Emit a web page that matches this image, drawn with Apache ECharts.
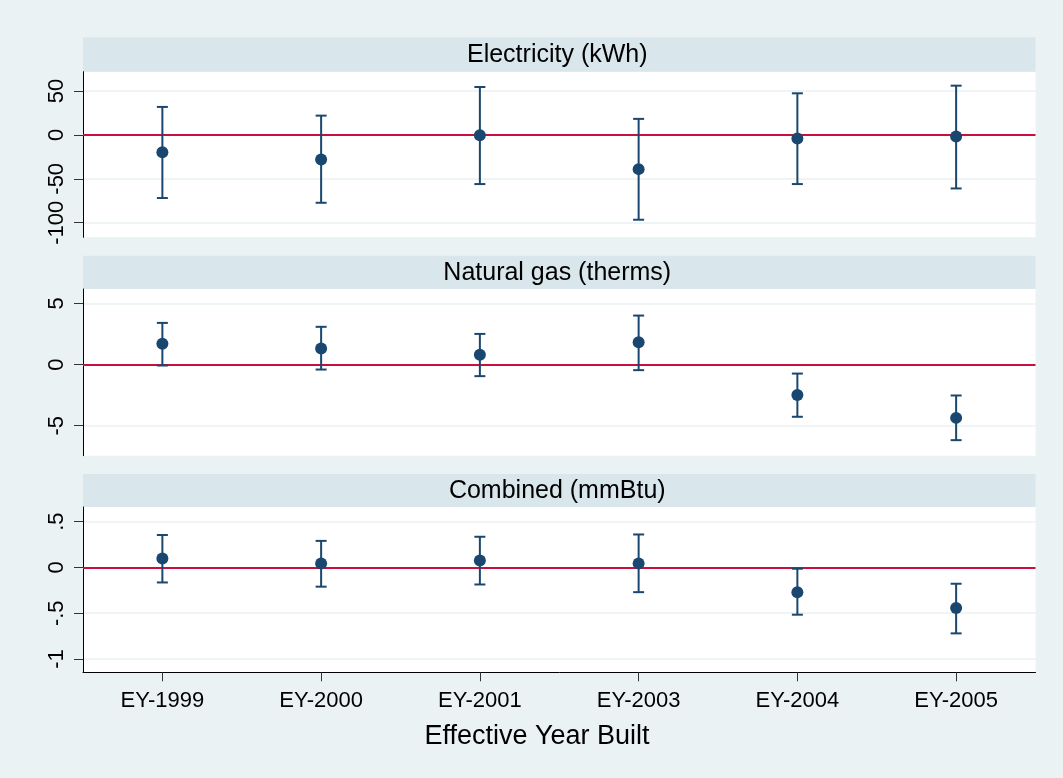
<!DOCTYPE html>
<html>
<head>
<meta charset="utf-8">
<title>Effective Year Built</title>
<script src="https://cdn.jsdelivr.net/npm/echarts@6/dist/echarts.min.js"></script>
<style>
html,body{margin:0;padding:0;background:#eaf2f3;}
#main{width:1063px;height:778px;}
</style>
</head>
<body>
<div id="main"></div>
<script>
// 类别
var years = ['EY-1999', 'EY-2000', 'EY-2001', 'EY-2003', 'EY-2004', 'EY-2005'];
// Electricity (kWh)
var elecEst = [-19.7, -28, -0.4, -39, -4.2, -1.9];
var elecLo = [-71.9, -77.3, -56, -96.6, -56, -61];
var elecHi = [31.8, 21.9, 54.5, 18.2, 47.3, 56];
// Natural gas (therms)
var gasEst = [1.69, 1.31, 0.79, 1.82, -2.5, -4.36];
var gasLo = [-0.08, -0.41, -0.95, -0.46, -4.27, -6.18];
var gasHi = [3.4, 3.08, 2.5, 4.0, -0.74, -2.53];
// Combined (mmBtu)
var combEst = [0.098, 0.044, 0.076, 0.044, -0.27, -0.443];
var combLo = [-0.164, -0.21, -0.186, -0.27, -0.516, -0.72];
var combHi = [0.354, 0.29, 0.335, 0.36, -0.014, -0.178];
// 刻度
var elecTicks = [-100, -50, 0, 50];
var gasTicks = [-5, 0, 5];
var combTicks = [-1, -0.5, 0, 0.5];
var panelTitles = ['Electricity (kWh)', 'Natural gas (therms)', 'Combined (mmBtu)'];

;(function(){
	var chart = echarts.init(document.getElementById('main'));
	var navy = '#1a476f';
	var font = '"Liberation Sans", Arial, sans-serif';
	var left = 83, right = 1035.5;
	// 每个面板: 标题条顶部, 绘图区顶部, 绘图区高度
	var panels = [
		{strip: 37.3, top: 71.7, h: 165.6, min: -116.6, max: 71.9, ticks: elecTicks, est: elecEst, lo: elecLo, hi: elecHi},
		{strip: 255.7, top: 289, h: 166.7, min: -7.45, max: 6.17, ticks: gasTicks, est: gasEst, lo: gasLo, hi: gasHi},
		{strip: 474, top: 507, h: 165.3, min: -1.145, max: 0.66, ticks: combTicks, est: combEst, lo: combLo, hi: combHi}
	];
	// stata风格的刻度 .5 / -.5
	function fmt(v){
		return String(v).replace(/^(-?)0\./, '$1.');
	}
	function barItem(params, api){
		var x = api.value(0);
		var lo = api.coord([x, api.value(1)]);
		var hi = api.coord([x, api.value(2)]);
		var cap = 5.5;
		var st = {stroke: navy, lineWidth: 2};
		return {type: 'group', children: [
			{type: 'line', shape: {x1: lo[0], y1: lo[1], x2: hi[0], y2: hi[1]}, style: st},
			{type: 'line', shape: {x1: lo[0] - cap, y1: lo[1], x2: lo[0] + cap, y2: lo[1]}, style: st},
			{type: 'line', shape: {x1: hi[0] - cap, y1: hi[1], x2: hi[0] + cap, y2: hi[1]}, style: st}
		]};
	}
	var grid = [], xAxis = [], yAxis = [], series = [], graphic = [];
	for(var i = 0; i < panels.length; i++){
		var p = panels[i];
		var last = i == panels.length - 1;
		grid.push({left: left, width: right - left, top: p.top, height: p.h, show: true, backgroundColor: '#fff', borderWidth: 0});
		xAxis.push({
			type: 'category', gridIndex: i, data: years, boundaryGap: true,
			show: last,
			axisLine: {show: true, onZero: false, lineStyle: {color: '#000', width: 1}},
			axisTick: {show: true, alignWithLabel: true, length: 9, lineStyle: {color: '#333'}},
			axisLabel: {fontSize: 22, color: '#000', margin: 18, fontFamily: font},
			splitLine: {show: false}
		});
		yAxis.push({
			type: 'value', gridIndex: i, min: p.min, max: p.max,
			axisLine: {show: true, onZero: false, lineStyle: {color: '#000', width: 1}},
			axisTick: {show: true, length: 9, customValues: p.ticks, lineStyle: {color: '#333'}},
			axisLabel: {customValues: p.ticks, rotate: 90, margin: 15, fontSize: 22, color: '#000', fontFamily: font, formatter: fmt},
			splitLine: {show: true, lineStyle: {color: '#eaf2f3', width: 1.5}}
		});
		var barData = [];
		for(var k = 0; k < years.length; k++){
			barData.push([k, p.lo[k], p.hi[k]]);
		}
		series.push({
			type: 'custom', xAxisIndex: i, yAxisIndex: i, z: 3,
			renderItem: barItem, data: barData, encode: {x: 0, y: [1, 2]},
			markLine: {
				silent: true, symbol: 'none', label: {show: false},
				lineStyle: {color: '#c8103c', width: 2, type: 'solid'},
				data: [{yAxis: 0}], z: 2
			}
		});
		series.push({
			type: 'scatter', xAxisIndex: i, yAxisIndex: i, z: 4,
			symbolSize: 12, itemStyle: {color: navy, opacity: 1},
			data: p.est
		});
		// 标题条
		graphic.push({
			type: 'rect', shape: {x: left, y: p.strip, width: right - left, height: p.top - p.strip},
			style: {fill: '#d9e6eb'}, silent: true
		});
		graphic.push({
			type: 'text', x: (left + right) / 2 - 2, y: (p.strip + p.top) / 2 + 1,
			style: {text: panelTitles[i], fill: '#000', font: '25px ' + font, align: 'center', verticalAlign: 'middle'},
			silent: true
		});
	}
	graphic.push({
		type: 'text', x: 537, y: 737,
		style: {text: 'Effective Year Built', fill: '#000', font: '27px ' + font, align: 'center', verticalAlign: 'middle'},
		silent: true
	});
	var option = {
		backgroundColor: '#eaf2f3',
		animation: false,
		grid: grid,
		xAxis: xAxis,
		yAxis: yAxis,
		series: series,
		graphic: graphic
	};
	chart.setOption(option);
})();
</script>
</body>
</html>
